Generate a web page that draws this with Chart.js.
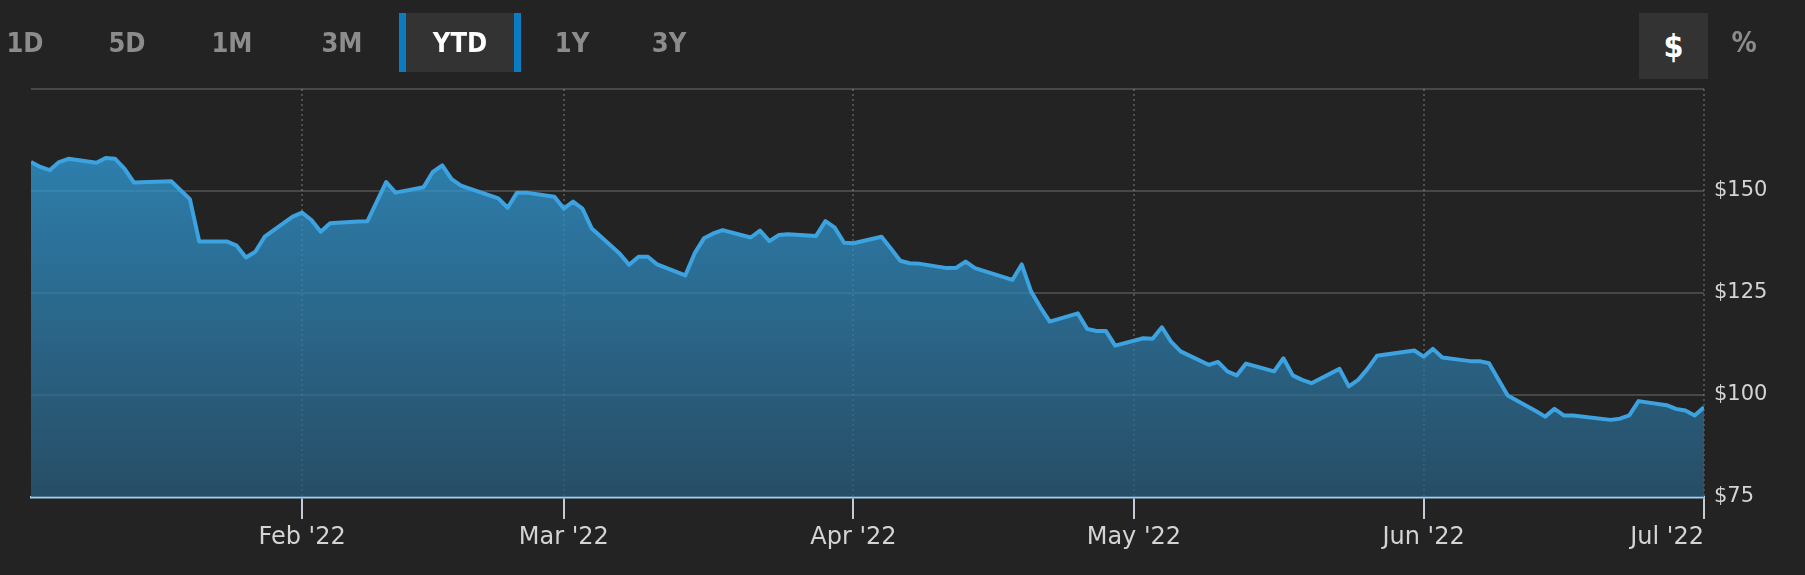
<!DOCTYPE html>
<html>
<head>
<meta charset="utf-8">
<script src="https://cdn.jsdelivr.net/npm/chart.js@4.4.0/dist/chart.umd.min.js"></script>
<style>
  html, body { margin: 0; padding: 0; background: #232323; }
  .wrap { position: relative; width: 1805px; height: 575px; overflow: hidden; }
  #price-chart { position: absolute; left: 0; top: 0; }
  .range {
    position: absolute; top: 13px; height: 59px; line-height: 59px; width: 80px; margin-left: -40px;
    font-family: 'DejaVu Sans Condensed', 'DejaVu Sans', sans-serif; font-weight: bold; font-size: 27px;
    color: #8c8c8c; text-align: center;
  }
  .range.active {
    left: 399px; margin-left: 0; width: 108px; background: #333333; color: #ffffff;
    border-left: 7px solid #0b7cc2; border-right: 7px solid #0b7cc2;
  }
  .unit {
    position: absolute; top: 13px; height: 66px; line-height: 66px; text-align: center;
    font-family: 'DejaVu Sans Condensed', 'DejaVu Sans', sans-serif; font-weight: bold;
  }
  .unit.active { left: 1639px; width: 69px; background: #333333; color: #ffffff; font-size: 32px; }
  .unit.off { left: 1724px; width: 40px; color: #8c8c8c; font-size: 28px; line-height: 60px; }
</style>
</head>
<body>
<div class="wrap">
  <canvas id="price-chart" width="1805" height="575"></canvas>
  <div class="range" style="left:25px">1D</div>
  <div class="range" style="left:127px">5D</div>
  <div class="range" style="left:232px">1M</div>
  <div class="range" style="left:342px">3M</div>
  <div class="range active">YTD</div>
  <div class="range" style="left:572px">1Y</div>
  <div class="range" style="left:669px">3Y</div>
  <div class="unit active">$</div>
  <div class="unit off">%</div>
</div>
<script>
// daily closes, YTD 2022
const tradeDates = [
  "2022-01-03","2022-01-04","2022-01-05","2022-01-06","2022-01-07","2022-01-10","2022-01-11","2022-01-12","2022-01-13","2022-01-14",
  "2022-01-18","2022-01-19","2022-01-20","2022-01-21","2022-01-24","2022-01-25","2022-01-26","2022-01-27","2022-01-28","2022-01-31",
  "2022-02-01","2022-02-02","2022-02-03","2022-02-04","2022-02-07","2022-02-08","2022-02-09","2022-02-10","2022-02-11","2022-02-14",
  "2022-02-15","2022-02-16","2022-02-17","2022-02-18","2022-02-22","2022-02-23","2022-02-24","2022-02-25","2022-02-28",
  "2022-03-01","2022-03-02","2022-03-03","2022-03-04","2022-03-07","2022-03-08","2022-03-09","2022-03-10","2022-03-11","2022-03-14",
  "2022-03-15","2022-03-16","2022-03-17","2022-03-18","2022-03-21","2022-03-22","2022-03-23","2022-03-24","2022-03-25","2022-03-28",
  "2022-03-29","2022-03-30","2022-03-31",
  "2022-04-01","2022-04-04","2022-04-05","2022-04-06","2022-04-07","2022-04-08","2022-04-11","2022-04-12","2022-04-13","2022-04-14",
  "2022-04-18","2022-04-19","2022-04-20","2022-04-21","2022-04-22","2022-04-25","2022-04-26","2022-04-27","2022-04-28","2022-04-29",
  "2022-05-02","2022-05-03","2022-05-04","2022-05-05","2022-05-06","2022-05-09","2022-05-10","2022-05-11","2022-05-12","2022-05-13",
  "2022-05-16","2022-05-17","2022-05-18","2022-05-19","2022-05-20","2022-05-23","2022-05-24","2022-05-25","2022-05-26","2022-05-27",
  "2022-05-31",
  "2022-06-01","2022-06-02","2022-06-03","2022-06-06","2022-06-07","2022-06-08","2022-06-09","2022-06-10","2022-06-13","2022-06-14",
  "2022-06-15","2022-06-16","2022-06-17","2022-06-21","2022-06-22","2022-06-23","2022-06-24","2022-06-27","2022-06-28","2022-06-29",
  "2022-06-30","2022-07-01"
];
const closePrices = [
  157.1,155.9,155.1,157.1,157.9,156.9,158.1,157.9,155.5,152.1,
  152.4,150.2,148.0,137.6,137.6,136.6,133.7,135.1,138.8,143.7,
  144.7,142.9,140.0,142.1,142.5,142.6,147.4,152.2,149.6,150.9,
  154.7,156.3,152.9,151.3,148.2,145.9,149.6,149.6,148.6,
  145.7,147.4,145.7,140.8,134.6,131.9,133.9,133.9,132.0,129.3,
  134.7,138.4,139.6,140.4,138.6,140.3,137.7,139.2,139.4,139.0,
  142.6,141.0,137.3,
  137.2,138.8,135.9,132.9,132.3,132.2,131.1,131.2,132.7,131.1,
  128.2,132.0,125.4,121.5,118.0,120.0,116.2,115.7,115.7,112.1,
  113.9,113.8,116.6,113.0,110.7,107.4,108.1,105.8,104.8,107.7,
  105.8,109.0,104.8,103.7,102.9,106.4,102.1,103.7,106.4,109.6,
  110.9,
  109.4,111.3,109.2,108.3,108.3,107.8,103.8,99.9,96.1,94.7,
  96.6,95.0,95.0,93.9,94.2,95.0,98.5,97.5,96.6,96.2,
  95.0,97.0
];
const tickDates = ["2022-01-03","2022-02-01","2022-03-01","2022-04-01","2022-05-01","2022-06-01","2022-07-01"];
const tickLabels = ["","Feb '22","Mar '22","Apr '22","May '22","Jun '22","Jul '22"];
const priceTicks = [75, 100, 125, 150, 175];

const startDate = tradeDates[0];
const dayIndex = d => (Date.parse(d) - Date.parse(startDate)) / 86400000;

const points = tradeDates.map((d, i) => ({x: dayIndex(d), y: closePrices[i]}));
const tickValues = tickDates.map(dayIndex);
const fontFamily = "'DejaVu Sans', sans-serif";

function areaGradient(context) {
  const area = context.chart.chartArea;
  if (!area) return 'rgba(45,120,165,0.75)';
  const g = context.chart.ctx.createLinearGradient(0, area.top, 0, area.bottom);
  g.addColorStop(0, 'rgba(51,171,238,0.75)');
  g.addColorStop(1, 'rgba(42,92,124,0.75)');
  return g;
}

new Chart(document.getElementById('price-chart').getContext('2d'), {
  type: 'line',
  data: {
    datasets: [{
      data: points,
      borderColor: '#3ca2e0',
      borderWidth: 4,
      borderJoinStyle: 'round',
      pointRadius: 0,
      tension: 0,
      fill: 'start',
      backgroundColor: areaGradient
    }]
  },
  options: {
    responsive: false,
    animation: false,
    layout: {padding: {left: 31, top: 89, right: 0, bottom: 0}},
    plugins: {legend: {display: false}, tooltip: {enabled: false}},
    scales: {
      x: {
        type: 'linear',
        min: tickValues[0],
        max: tickValues[tickValues.length - 1],
        afterBuildTicks: axis => { axis.ticks = tickValues.map(v => ({value: v})); },
        afterFit: axis => { axis.height = 78; },
        ticks: {
          autoSkip: false, maxRotation: 0, align: 'inner', padding: 4,
          color: '#d4d4d4', font: {family: fontFamily, size: 24},
          callback: (v, i) => tickLabels[i]
        },
        grid: {
          color: c => c.index === 0 ? 'rgba(0,0,0,0)' : 'rgba(255,255,255,0.2)',
          lineWidth: 2,
          tickLength: 22,
          tickWidth: 2,
          tickColor: c => c.index === 0 ? 'rgba(0,0,0,0)' : '#c3cbd4',
          tickBorderDash: []
        },
        border: {display: true, color: '#a9cbe3', width: 2.5, dash: [2, 3]}
      },
      y: {
        position: 'right',
        min: 75,
        max: 175,
        afterBuildTicks: axis => { axis.ticks = priceTicks.map(v => ({value: v})); },
        afterFit: axis => { axis.width = 101; },
        ticks: {
          padding: 10, color: '#d4d4d4', font: {family: fontFamily, size: 21},
          callback: v => v === 175 ? '' : '$' + v
        },
        grid: {color: 'rgba(255,255,255,0.17)', lineWidth: 2, drawTicks: false},
        border: {display: false}
      }
    }
  }
});
</script>
</body>
</html>
